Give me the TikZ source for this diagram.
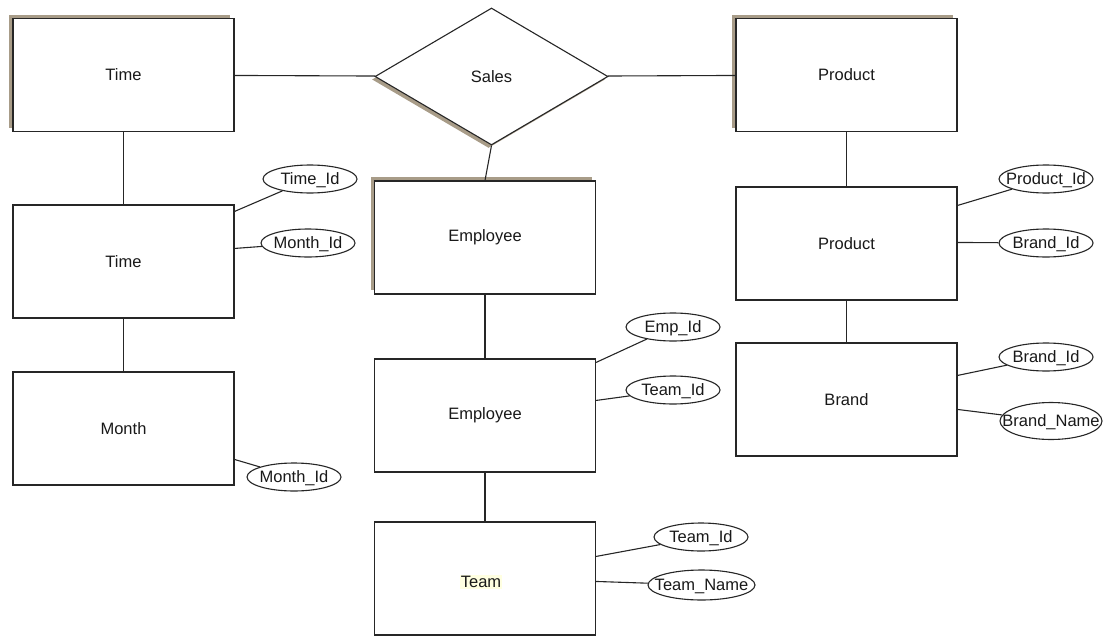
\documentclass[tikz,border=0pt]{standalone}
\usepackage{fontspec}
\setmainfont{Liberation Sans}
\usetikzlibrary{shapes.geometric,shadows,calc}
\definecolor{shadowc}{RGB}{168,156,136}
\definecolor{hl}{RGB}{255,255,225}
\newcommand{\attxt}[1]{\makebox[0pt]{#1}}
\tikzset{
  lbl/.style={font=\fontsize{16.5}{20}\selectfont, text=black!90},
  ent/.style={lbl, draw=black!85, line width=1.1pt, fill=white, rectangle, minimum width=221pt, minimum height=113pt, inner sep=0pt},
  shbox/.style={ent, drop shadow={shadow xshift=-4pt, shadow yshift=4pt, fill=shadowc, opacity=1}},
  rel/.style={lbl, draw=black!85, line width=1.1pt, fill=white, diamond, minimum width=233pt, minimum height=137pt, inner sep=0pt,
    drop shadow={shadow xshift=-3pt, shadow yshift=-3pt, fill=shadowc, opacity=1}},
  att/.style={lbl, draw=black!85, line width=1.1pt, fill=white, ellipse, minimum width=94pt, minimum height=28pt, inner sep=0pt,
    text height=11.8pt, text depth=0pt},
  con/.style={draw=black!85, line width=1.1pt}
}
\begin{document}
\begin{tikzpicture}[x=1pt,y=-1pt]
\useasboundingbox (0,0) rectangle (1111,637);
% entities
\node[shbox] (time1) at (123.5,75) {Time};
\node[ent] (time2) at (123.5,261.5) {Time};
\node[ent] (month) at (123.5,428.5) {Month};
\node[rel] (sales) at (491.5,76.5) {Sales};
\node[shbox] (emp1) at (485,237.5) {Employee};
\node[ent] (emp2) at (485,415.5) {Employee};
\node[ent] (team) at (485,578.5) {};
\node[lbl, fill=hl, inner sep=1pt] (teamlbl) at (481,582) {Team};
\node[shbox] (prod1) at (846.5,75) {Product};
\node[ent] (prod2) at (846.5,243.5) {Product};
\node[ent] (brand) at (846.5,399.5) {Brand};
% attributes
\node[att] (timeid) at (310,179) {\attxt{Time\_Id}};
\node[att] (monthid1) at (308,243) {\attxt{Month\_Id}};
\node[att] (monthid2) at (294,477) {\attxt{Month\_Id}};
\node[att] (empid) at (673,327) {\attxt{Emp\_Id}};
\node[att] (teamid1) at (673,390) {\attxt{Team\_Id}};
\node[att] (teamid2) at (701,537) {\attxt{Team\_Id}};
\node[att, minimum width=107pt, minimum height=30pt] (teamname) at (701.5,585) {\attxt{Team\_Name}};
\node[att] (prodid) at (1046,179) {\attxt{Product\_Id}};
\node[att] (brandid1) at (1046,243) {\attxt{Brand\_Id}};
\node[att] (brandid2) at (1046,357) {\attxt{Brand\_Id}};
\node[att, minimum width=102pt, minimum height=37pt] (brandname) at (1051,421) {\attxt{Brand\_Name}};
% relationship connectors
\draw[con] (time1) -- (sales);
\draw[con] (sales) -- (prod1);
\draw[con] (sales.south) -- (emp1.north);
\draw[con] (time1) -- (time2);
\draw[con] (time2) -- (month);
\draw[con] (emp1) -- (emp2);
\draw[con] (emp2) -- (team);
\draw[con] (prod1) -- (prod2);
\draw[con] (prod2) -- (brand);
% attribute connectors
\draw[con] ($(time2.north east)+(0,7)$) -- (timeid);
\draw[con] ($(time2.north east)+(0,44)$) -- (monthid1);
\draw[con] ($(month.north east)+(0,88)$) -- (monthid2);
\draw[con] ($(emp2.north east)+(0,4)$) -- (empid);
\draw[con] ($(emp2.north east)+(0,42)$) -- (teamid1);
\draw[con] ($(team.north east)+(0,35)$) -- (teamid2);
\draw[con] ($(team.north east)+(0,60)$) -- (teamname);
\draw[con] ($(prod2.north east)+(0,19)$) -- (prodid);
\draw[con] ($(prod2.north east)+(0,56)$) -- (brandid1);
\draw[con] ($(brand.north east)+(0,33)$) -- (brandid2);
\draw[con] ($(brand.north east)+(0,67)$) -- (brandname);
\end{tikzpicture}
\end{document}
